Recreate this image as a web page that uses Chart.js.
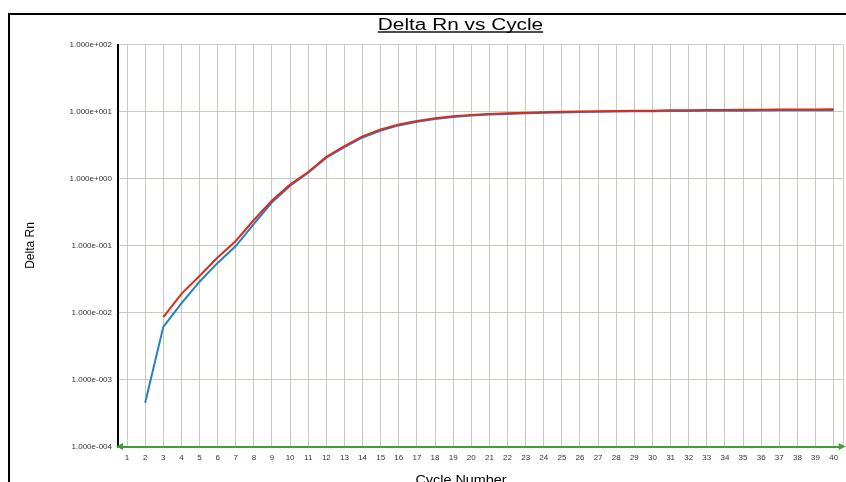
<!DOCTYPE html>
<html><head><meta charset="utf-8">
<script src="https://cdn.jsdelivr.net/npm/chart.js@4.4.1/dist/chart.umd.min.js"></script>
<style>html,body{margin:0;padding:0;overflow:hidden;background:#fff;width:846px;height:482px}canvas{display:block}</style>
</head><body>
<canvas id="c" width="846" height="494"></canvas>
<script>
const chartTitle = 'Delta Rn vs Cycle';
const xAxisTitle = 'Cycle Number';
const yAxisTitle = 'Delta Rn';
const cycles = [1,2,3,4,5,6,7,8,9,10,11,12,13,14,15,16,17,18,19,20,21,22,23,24,25,26,27,28,29,30,31,32,33,34,35,36,37,38,39,40];
const xTickValues = cycles.slice();
const yTickValues = [1e-4, 1e-3, 1e-2, 1e-1, 1, 10, 100];
const blueValues = [null, 4.5e-4, 6.1e-3, 0.0137, 0.0288, 0.055, 0.098, 0.21, 0.44, 0.78,
  1.22, 2.05, 2.95, 4.1, 5.2, 6.2, 7.0, 7.7, 8.3, 8.7,
  9.0, 9.2, 9.4, 9.55, 9.7, 9.8, 9.9, 10.0, 10.05, 10.1,
  10.15, 10.2, 10.25, 10.3, 10.3, 10.35, 10.4, 10.4, 10.45, 10.45];
const redValues = [null, null, 8.5e-3, 0.019, 0.035, 0.066, 0.117, 0.24, 0.47, 0.81,
  1.25, 2.1, 3.05, 4.25, 5.4, 6.4, 7.2, 7.9, 8.5, 8.9,
  9.2, 9.45, 9.6, 9.75, 9.9, 10.0, 10.1, 10.2, 10.25, 10.3,
  10.4, 10.45, 10.5, 10.55, 10.6, 10.65, 10.7, 10.7, 10.75, 10.8];

const FONT = '"Liberation Sans", Arial, sans-serif';
const GRID = '#c9c9c0';
const GREEN = '#3f9e34';

function sci(v){
  const e = Math.round(Math.log10(v));
  return '1.000e' + (e < 0 ? '-' : '+') + String(Math.abs(e)).padStart(3, '0');
}

const decor = {
  id: 'decor',
  beforeDraw(chart){
    const ctx = chart.ctx;
    ctx.save();
    ctx.fillStyle = '#fff';
    ctx.fillRect(0, 0, chart.width, chart.height);
    ctx.restore();
  },
  afterDraw(chart){
    const ctx = chart.ctx, a = chart.chartArea;
    ctx.save();
    // outer frame
    ctx.strokeStyle = '#000'; ctx.lineWidth = 2;
    ctx.beginPath(); ctx.moveTo(9, chart.height + 5); ctx.lineTo(9, 14); ctx.lineTo(chart.width + 5, 14); ctx.stroke();
    // plot right border
    ctx.strokeStyle = GRID; ctx.lineWidth = 1;
    ctx.beginPath(); ctx.moveTo(Math.round(a.right) + 0.5, a.top); ctx.lineTo(Math.round(a.right) + 0.5, a.bottom); ctx.stroke();
    // arrowheads on x axis
    const y = a.bottom;
    ctx.fillStyle = GREEN;
    ctx.beginPath(); ctx.moveTo(a.left - 2, y); ctx.lineTo(a.left + 5, y - 3.5); ctx.lineTo(a.left + 5, y + 3.5); ctx.closePath(); ctx.fill();
    ctx.beginPath(); ctx.moveTo(a.right + 3, y); ctx.lineTo(a.right - 4, y - 3.5); ctx.lineTo(a.right - 4, y + 3.5); ctx.closePath(); ctx.fill();
    // title with underline
    ctx.fillStyle = '#000';
    ctx.font = '16px ' + FONT;
    ctx.textAlign = 'center'; ctx.textBaseline = 'alphabetic';
    const w = ctx.measureText(chartTitle).width;
    ctx.save();
    ctx.translate(460.5, 29.5); ctx.scale(1.3, 1);
    ctx.fillText(chartTitle, 0, 0);
    ctx.fillRect(-w / 2, 1.8, w, 1.4);
    ctx.restore();
    // x axis title
    ctx.font = '12px ' + FONT;
    ctx.save();
    ctx.translate(461, 484); ctx.scale(1.2, 1);
    ctx.fillText(xAxisTitle, 0, 0);
    ctx.restore();
    ctx.restore();
  }
};

new Chart(document.getElementById('c'), {
  type: 'line',
  data: {
    datasets: [
      { label: 'Blue', data: cycles.map((c, i) => ({x: c, y: blueValues[i]})), borderColor: '#2181c4', borderWidth: 2, pointRadius: 0, tension: 0, fill: false, order: 2 },
      { label: 'Red', data: cycles.map((c, i) => ({x: c, y: redValues[i]})), borderColor: '#dc2a1c', borderWidth: 2, pointRadius: 0, tension: 0, fill: false, order: 1 }
    ]
  },
  options: {
    responsive: false,
    animation: false,
    layout: { padding: { left: 0, right: 3.3, top: 44.5, bottom: 0 } },
    plugins: { legend: { display: false }, title: { display: false }, tooltip: { enabled: false } },
    scales: {
      x: {
        type: 'linear', min: 0.5, max: 40.5,
        afterBuildTicks: s => { s.ticks = xTickValues.map(v => ({value: v})); },
        afterFit: s => { s.height = 47.5; },
        grid: { color: GRID, lineWidth: 1, drawTicks: false },
        border: { color: GREEN, width: 2 },
        ticks: { padding: 6, autoSkip: false, maxRotation: 0, color: '#333', font: { family: FONT, size: 8 }, callback: v => String(v) },
        title: { display: false, text: xAxisTitle }
      },
      y: {
        type: 'logarithmic', min: 1e-4, max: 100,
        afterBuildTicks: s => { s.ticks = yTickValues.map(v => ({value: v})); },
        afterFit: s => { s.width = 118; },
        grid: { color: GRID, lineWidth: 1, drawTicks: false },
        border: { color: '#000', width: 2 },
        ticks: { padding: 6, autoSkip: false, color: '#333', font: { family: FONT, size: 8 }, callback: v => sci(v) },
        title: { display: true, text: yAxisTitle, color: '#000', font: { family: FONT, size: 12 }, padding: { top: 23.3, bottom: 0 } }
      }
    }
  },
  plugins: [decor]
});
</script>
</body></html>
